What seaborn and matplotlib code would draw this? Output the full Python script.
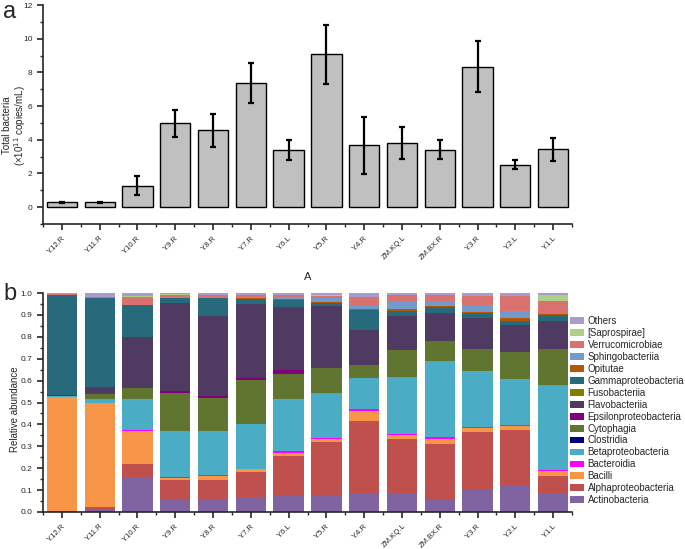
import numpy as np
import pandas as pd
import matplotlib
matplotlib.use("Agg")
import matplotlib.pyplot as plt
from matplotlib.patches import Patch
from matplotlib.ticker import MultipleLocator
import seaborn as sns

# ---------------- data ----------------
samples = ["Y.12.R", "Y.11.R", "Y.10.R", "Y.9.R", "Y.8.R", "Y.7.R", "Y.6.L",
           "Y.5.R", "Y.4.R", "ZM.KQ.L", "ZM.BX.R", "Y.3.R", "Y.2.L", "Y.1.L"]

total_bacteria = [0.30, 0.28, 1.28, 4.98, 4.57, 7.37, 3.38,
                  9.07, 3.66, 3.80, 3.40, 8.34, 2.53, 3.44]
total_err = [0.03, 0.03, 0.55, 0.80, 0.98, 1.18, 0.58,
             1.77, 1.70, 0.93, 0.57, 1.52, 0.25, 0.69]

classes = ["Actinobacteria", "Alphaproteobacteria", "Bacilli", "Bacteroidia",
           "Betaproteobacteria", "Clostridia", "Cytophagia", "Epsilonproteobacteria",
           "Flavobacteriia", "Fusobacteriia", "Gammaproteobacteria", "Opitutae",
           "Sphingobacteriia", "Verrucomicrobiae", "[Saprospirae]", "Others"]

actinobacteria = [0.002, 0.011, 0.156, 0.056, 0.060, 0.069, 0.076, 0.072, 0.087, 0.087, 0.056, 0.099, 0.125, 0.089]
alphaproteobacteria = [0.002, 0.012, 0.064, 0.089, 0.085, 0.115, 0.179, 0.249, 0.330, 0.246, 0.256, 0.266, 0.249, 0.076]
bacilli = [0.520, 0.473, 0.150, 0.011, 0.020, 0.011, 0.014, 0.011, 0.044, 0.018, 0.023, 0.020, 0.018, 0.023]
bacteroidia = [0.000, 0.000, 0.004, 0.005, 0.006, 0.003, 0.008, 0.005, 0.009, 0.005, 0.006, 0.005, 0.005, 0.002]
betaproteobacteria = [0.005, 0.021, 0.144, 0.209, 0.198, 0.205, 0.241, 0.205, 0.144, 0.260, 0.350, 0.252, 0.209, 0.392]
clostridia = [0.000, 0.000, 0.000, 0.000, 0.000, 0.000, 0.000, 0.000, 0.000, 0.000, 0.000, 0.000, 0.000, 0.000]
cytophagia = [0.001, 0.020, 0.047, 0.173, 0.151, 0.201, 0.114, 0.114, 0.057, 0.123, 0.088, 0.103, 0.123, 0.161]
epsilonproteobacteria = [0.000, 0.000, 0.002, 0.008, 0.011, 0.008, 0.015, 0.002, 0.000, 0.000, 0.000, 0.000, 0.000, 0.000]
flavobacteriia = [0.002, 0.035, 0.234, 0.404, 0.366, 0.340, 0.290, 0.282, 0.160, 0.157, 0.131, 0.141, 0.123, 0.131]
fusobacteriia = [0.000, 0.000, 0.000, 0.000, 0.000, 0.000, 0.000, 0.000, 0.000, 0.000, 0.000, 0.000, 0.000, 0.000]
gammaproteobacteria = [0.460, 0.405, 0.142, 0.021, 0.081, 0.022, 0.032, 0.016, 0.093, 0.024, 0.028, 0.022, 0.021, 0.024]
opitutae = [0.000, 0.000, 0.001, 0.001, 0.001, 0.001, 0.003, 0.002, 0.002, 0.005, 0.002, 0.003, 0.011, 0.005]
sphingobacteriia = [0.001, 0.002, 0.003, 0.005, 0.005, 0.006, 0.010, 0.018, 0.015, 0.037, 0.023, 0.034, 0.032, 0.002]
verrucomicrobiae = [0.001, 0.004, 0.035, 0.010, 0.006, 0.008, 0.008, 0.012, 0.041, 0.027, 0.026, 0.040, 0.069, 0.058]
saprospirae = [0.000, 0.001, 0.004, 0.002, 0.002, 0.002, 0.002, 0.002, 0.002, 0.002, 0.002, 0.002, 0.002, 0.026]
others = [0.006, 0.016, 0.014, 0.006, 0.008, 0.009, 0.008, 0.010, 0.016, 0.009, 0.009, 0.013, 0.013, 0.011]

abundance = [actinobacteria, alphaproteobacteria, bacilli, bacteroidia, betaproteobacteria,
             clostridia, cytophagia, epsilonproteobacteria, flavobacteriia, fusobacteriia,
             gammaproteobacteria, opitutae, sphingobacteriia, verrucomicrobiae, saprospirae, others]

colors = ["#8064A2", "#C0504D", "#F79646", "#FF00FF", "#4BACC6", "#000080", "#5F7530",
          "#800080", "#4F3B62", "#808000", "#276A7C", "#B65708", "#729ACA", "#D9726F",
          "#AFCE86", "#A99BCE"]

# ---------------- figure ----------------
sns.set_style("ticks")
plt.rcParams["font.family"] = ["Liberation Sans", "DejaVu Sans"]
plt.rcParams["axes.linewidth"] = 1.2

fig = plt.figure(figsize=(6.85, 5.49), dpi=100)
W, H = 685.0, 549.0

# ----- panel a -----
ax1 = fig.add_axes([43 / W, 1 - 224 / H, 529 / W, 219 / H])
df_top = pd.DataFrame({"sample": samples, "value": total_bacteria})
sns.barplot(data=df_top, x="sample", y="value", order=samples, color="#C0C0C0",
            edgecolor="black", linewidth=1.0, width=0.8, errorbar=None, saturation=1, ax=ax1)
ax1.errorbar(np.arange(len(samples)), total_bacteria, yerr=total_err, fmt="none",
             ecolor="black", elinewidth=1.6, capsize=2, capthick=1.6)
ax1.set_xlim(-0.5, 13.5)
ax1.set_ylim(-1, 12)
ax1.yaxis.set_major_locator(MultipleLocator(2))
ax1.yaxis.set_minor_locator(MultipleLocator(1))
ax1.set_xticks(np.arange(-0.5, 13.6, 1.0), minor=True)
ax1.tick_params(axis="both", which="major", direction="out", length=4, width=1.2, labelsize=6)
ax1.tick_params(axis="both", which="minor", direction="out", length=2.5, width=1.0)
ax1.set_xticks(range(len(samples)))
ax1.set_xticklabels(samples, rotation=45, ha="right", rotation_mode="anchor", fontsize=5.5)
ax1.set_yticks([0, 2, 4, 6, 8, 10, 12])
ax1.set_xlabel("A", fontsize=8, labelpad=8)
ax1.set_ylabel("Total bacteria\n(×10$^{11}$ copies/mL)", fontsize=7, linespacing=1.0)
ax1.yaxis.set_label_coords(-0.029, 0.45)
sns.despine(ax=ax1)

# ----- panel b -----
ax2 = fig.add_axes([43 / W, 1 - 512 / H, 529 / W, 219 / H])
bottom = np.zeros(len(samples))
for cls, vals, col in zip(classes, abundance, colors):
    sns.barplot(x=samples, y=vals, order=samples, color=col, width=0.8, errorbar=None,
                saturation=1, linewidth=0, bottom=bottom, ax=ax2)
    bottom = bottom + np.array(vals)
ax2.set_xlim(-0.5, 13.5)
ax2.set_ylim(0, 1.0)
ax2.yaxis.set_minor_locator(MultipleLocator(0.05))
ax2.set_yticks(np.round(np.arange(0, 1.01, 0.1), 1))
ax2.set_yticklabels([f"{v:.1f}" for v in np.arange(0, 1.01, 0.1)])
ax2.set_xticks(np.arange(-0.5, 13.6, 1.0), minor=True)
ax2.tick_params(axis="both", which="major", direction="out", length=4, width=1.2, labelsize=6)
ax2.tick_params(axis="both", which="minor", direction="out", length=2.5, width=1.0)
ax2.set_xticks(range(len(samples)))
ax2.set_xticklabels(samples, rotation=45, ha="right", rotation_mode="anchor", fontsize=5.5)
ax2.set_xlabel("")
ax2.set_ylabel("Relative abundance", fontsize=7)
ax2.yaxis.set_label_coords(-0.044, 0.47)
sns.despine(ax=ax2)

handles = [Patch(facecolor=c, edgecolor="none", label=l) for l, c in zip(classes, colors)][::-1]
fig.legend(handles=handles, loc="upper left", bbox_to_anchor=(570 / W, 1 - 316 / H),
           frameon=False, fontsize=7, handlelength=1.4, handleheight=0.7,
           handletextpad=0.4, labelspacing=0.2, borderaxespad=0, borderpad=0)

fig.text(3 / W, 1 - 1 / H, "a", fontsize=17, va="top", ha="left")
fig.text(3 / W, 1 - 283 / H, "b", fontsize=17, va="top", ha="left")

fig.savefig("out.png", dpi=100)
